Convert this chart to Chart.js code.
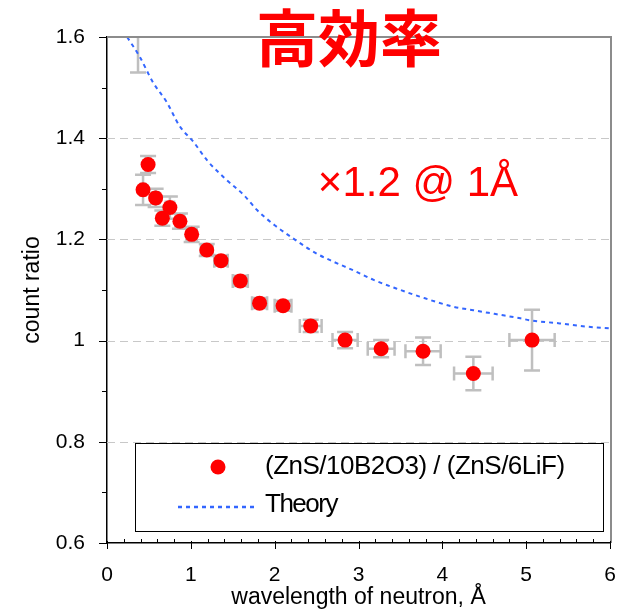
<!DOCTYPE html>
<html>
<head>
<meta charset="utf-8">
<script src="https://cdn.jsdelivr.net/npm/chart.js@4"></script>
<style>
  body { margin: 0; background: #fff; }
  canvas { display: block; }
</style>
</head>
<body>
<canvas id="chart1" width="621" height="611"></canvas>
<script>
// measured ratio (ZnS/10B2O3) / (ZnS/6LiF)
const wavelength    = [0.37, 0.43, 0.49, 0.58, 0.66, 0.75, 0.87, 1.01, 1.19, 1.36, 1.59, 1.82, 2.10, 2.43, 2.84, 3.27, 3.77, 4.37, 5.07]
const ratio         = [1.64, 1.298, 1.348, 1.282, 1.242, 1.263, 1.236, 1.210, 1.179, 1.158, 1.118, 1.074, 1.069, 1.029, 1.001, 0.984, 0.979, 0.935, 1.001]
const wavelengthErr = [0.03, 0.03, 0.03, 0.04, 0.04, 0.05, 0.05, 0.06, 0.07, 0.08, 0.09, 0.09, 0.10, 0.13, 0.15, 0.16, 0.21, 0.23, 0.27]
const ratioErr      = [0.11, 0.03, 0.017, 0.018, 0.015, 0.022, 0.015, 0.015, 0.012, 0.010, 0.010, 0.010, 0.010, 0.012, 0.016, 0.017, 0.027, 0.033, 0.060]

// theory curve
const theoryX = [0.24, 0.39, 0.55, 0.71, 0.87, 1.03, 1.2, 1.43, 1.63, 1.79, 2.0, 2.22, 2.5, 2.7, 2.95, 3.18, 3.45, 3.73, 4.13, 4.37, 4.65, 4.93, 5.05, 5.4, 5.7, 6.0]
const theoryY = [1.60, 1.561, 1.51, 1.472, 1.423, 1.393, 1.355, 1.317, 1.288, 1.258, 1.228, 1.202, 1.172, 1.156, 1.138, 1.120, 1.103, 1.087, 1.067, 1.060, 1.052, 1.044, 1.040, 1.034, 1.028, 1.024]

const labelData = '(ZnS/10B2O3) / (ZnS/6LiF)'
const labelTheory = 'Theory'
const gridValues = [0.8, 1.0, 1.2, 1.4]

const FONT = "'Liberation Sans', Arial, sans-serif"

const axisPlugin = {
    id: 'axisDeco',
    beforeDatasetsDraw(chart) {
        const { ctx, chartArea: a, scales: { x, y } } = chart
        ctx.save()
        // dashed gridlines
        ctx.strokeStyle = '#c8c8c8'
        ctx.lineWidth = 1
        ctx.setLineDash([8, 5])
        gridValues.forEach(v => {
            const py = Math.round(y.getPixelForValue(v)) + 0.5
            ctx.beginPath(); ctx.moveTo(a.left, py); ctx.lineTo(a.right, py); ctx.stroke()
        })
        ctx.setLineDash([])
        // error bars
        ctx.beginPath()
        ctx.rect(a.left, a.top, a.right - a.left, a.bottom - a.top)
        ctx.clip()
        ctx.strokeStyle = '#bfbfbf'
        ctx.lineWidth = 2.5
        wavelength.forEach((wl, i) => {
            const cx = x.getPixelForValue(wl), cy = y.getPixelForValue(ratio[i])
            const x0 = x.getPixelForValue(wl - wavelengthErr[i]), x1 = x.getPixelForValue(wl + wavelengthErr[i])
            const y0 = y.getPixelForValue(ratio[i] - ratioErr[i]), y1 = y.getPixelForValue(ratio[i] + ratioErr[i])
            ctx.beginPath()
            ctx.moveTo(x0, cy); ctx.lineTo(x1, cy)
            ctx.moveTo(x0, cy - 7); ctx.lineTo(x0, cy + 7)
            ctx.moveTo(x1, cy - 7); ctx.lineTo(x1, cy + 7)
            ctx.moveTo(cx, y0); ctx.lineTo(cx, y1)
            ctx.moveTo(cx - 8, y0); ctx.lineTo(cx + 8, y0)
            ctx.moveTo(cx - 8, y1); ctx.lineTo(cx + 8, y1)
            ctx.stroke()
        })
        ctx.restore()
    },
    afterDraw(chart) {
        const { ctx, chartArea: a, scales: { x, y } } = chart
        ctx.save()
        // top / right frame
        ctx.strokeStyle = '#8c8c8c'
        ctx.lineWidth = 2
        ctx.beginPath()
        ctx.moveTo(a.left, a.top); ctx.lineTo(a.right + 1, a.top); ctx.lineTo(a.right + 1, a.bottom)
        ctx.stroke()
        // tick marks
        ctx.strokeStyle = '#000'
        ctx.lineWidth = 1
        for (let k = 0; k <= 10; k++) {
            const v = 0.6 + k * 0.1
            const py = Math.round(y.getPixelForValue(v)) + 0.5
            const len = k % 2 === 0 ? 8 : 5
            ctx.beginPath(); ctx.moveTo(a.left - len, py); ctx.lineTo(a.left, py); ctx.stroke()
        }
        for (let k = 0; k <= 30; k++) {
            const v = k * 0.2
            const px = Math.round(x.getPixelForValue(v)) + 0.5
            ctx.beginPath()
            if (k % 5 === 0) { ctx.moveTo(px, a.bottom - 2); ctx.lineTo(px, a.bottom + 6) }
            else { ctx.moveTo(px, a.bottom - 4); ctx.lineTo(px, a.bottom) }
            ctx.stroke()
        }
        // legend
        ctx.fillStyle = '#fff'
        ctx.fillRect(135, 443, 468, 88)
        ctx.strokeRect(135.5, 443.5, 468, 88)
        ctx.fillStyle = '#ff0000'
        ctx.beginPath(); ctx.arc(218, 467, 7.5, 0, Math.PI * 2); ctx.fill()
        ctx.strokeStyle = '#3366ff'
        ctx.lineWidth = 2.5
        ctx.setLineDash([4, 4])
        ctx.beginPath(); ctx.moveTo(178, 507); ctx.lineTo(256, 507); ctx.stroke()
        ctx.setLineDash([])
        ctx.fillStyle = '#000'
        ctx.font = '26px ' + FONT
        ctx.textBaseline = 'middle'
        ctx.textAlign = 'left'
        ctx.letterSpacing = '-0.5px'
        ctx.fillText(chart.data.datasets[0].label, 265, 467)
        ctx.letterSpacing = '-1.5px'
        ctx.fillText(chart.data.datasets[1].label, 265, 505)
        ctx.letterSpacing = '0px'
        // annotations
        ctx.fillStyle = '#ff0000'
        ctx.textAlign = 'center'
        ctx.textBaseline = 'alphabetic'
        ctx.font = "bold 62px 'Noto Sans CJK JP', sans-serif"
        ctx.fillText('高効率', 349, 62)
        ctx.font = '42px ' + FONT
        ctx.fillText('×1.2 @ 1Å', 418, 196)
        ctx.restore()
    }
}

new Chart('chart1', {
    type: 'scatter',
    data: {
        datasets: [
            {
                label: labelData,
                data: wavelength.map((v, i) => ({ x: v, y: ratio[i] })),
                backgroundColor: '#ff0000',
                borderWidth: 0,
                pointRadius: 7.5,
                pointHoverRadius: 7.5,
                clip: 0,
                order: 1
            },
            {
                label: labelTheory,
                data: theoryX.map((v, i) => ({ x: v, y: theoryY[i] })),
                showLine: true,
                borderColor: '#3366ff',
                borderWidth: 2,
                borderDash: [4, 4],
                pointRadius: 0,
                cubicInterpolationMode: 'monotone',
                clip: 0,
                order: 2
            }
        ]
    },
    options: {
        responsive: false,
        animation: false,
        layout: { padding: { top: 37, right: 11, left: 0, bottom: 0 } },
        plugins: { legend: { display: false }, tooltip: { enabled: false } },
        scales: {
            x: {
                min: 0, max: 6,
                afterFit: s => { s.height = 68; s.paddingRight = 0; s.paddingLeft = 0 },
                grid: { display: false, drawTicks: false },
                border: { display: true, color: '#000', width: 1.5 },
                ticks: { stepSize: 1, color: '#000', padding: 20, font: { size: 21, family: FONT } },
                title: { display: true, text: 'wavelength of neutron, Å', color: '#000', padding: { top: 0, bottom: 0 }, font: { size: 23, family: FONT } }
            },
            y: {
                min: 0.6, max: 1.6,
                afterFit: s => { s.width = 107; s.paddingTop = 0; s.paddingBottom = 0 },
                grid: { display: false, drawTicks: false },
                border: { display: true, color: '#000', width: 1.5 },
                ticks: { stepSize: 0.2, color: '#000', padding: 22, font: { size: 21, family: FONT }, callback: v => +v.toFixed(1) },
                title: { display: true, text: 'count ratio', color: '#000', padding: { top: 19, bottom: 0 }, font: { size: 23, family: FONT } }
            }
        }
    },
    plugins: [axisPlugin]
})
</script>
</body>
</html>
